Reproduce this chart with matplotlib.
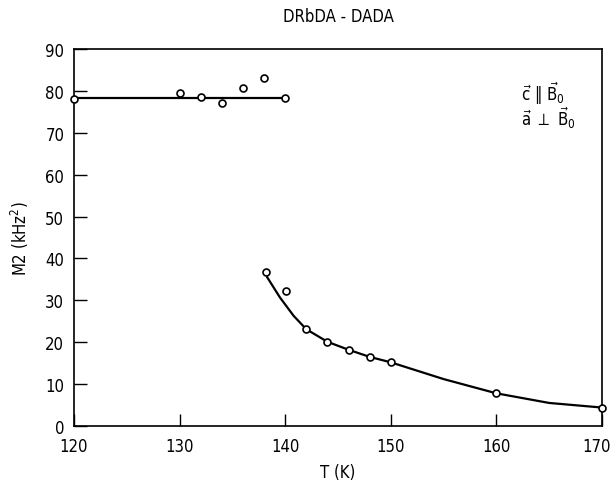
import matplotlib
matplotlib.use("Agg")
import matplotlib.pyplot as plt
from matplotlib import font_manager
from matplotlib.transforms import ScaledTranslation

names = {f.name for f in font_manager.fontManager.ttflist}
narrow = [n for n in ['Liberation Sans Narrow', 'DejaVu Sans Condensed'] if n in names]
plt.rcParams['font.family'] = narrow + ['DejaVu Sans']
plt.rcParams['font.stretch'] = 'condensed'
plt.rcParams['mathtext.fontset'] = 'dejavusans'

# low temperature phase (measured points)
low_T = [120, 130, 132, 134, 136, 138, 140]
low_M2 = [78.0, 79.5, 78.6, 77.0, 80.6, 83.1, 78.2]
low_fit_T = [120, 140]
low_fit_M2 = [78.4, 78.4]

# high temperature phase (measured points)
high_T = [138.2, 140.1, 142, 144, 146, 148, 150, 160, 170]
high_M2 = [36.7, 32.3, 23.1, 20.1, 18.2, 16.5, 15.2, 7.8, 4.4]
# hand drawn fit line
high_fit_T = [138.3, 139.5, 140.8, 142, 144, 146, 148, 150, 155, 160, 165, 170]
high_fit_M2 = [35.5, 30.7, 26.3, 23.1, 20.1, 18.2, 16.5, 15.2, 11.2, 7.8, 5.5, 4.4]

x_ticks = [120, 130, 140, 150, 160, 170]
y_ticks = [0, 10, 20, 30, 40, 50, 60, 70, 80, 90]

fig = plt.figure(figsize=(6.13, 4.81), dpi=100)
ax = fig.add_axes([0.1207, 0.1123, 0.8613, 0.7837])

ax.plot(low_fit_T, low_fit_M2, color='black', lw=1.6, zorder=2)
ax.plot(high_fit_T, high_fit_M2, color='black', lw=1.6, zorder=2)
mk = dict(ls='none', marker='o', ms=5, mfc='white', mec='black', mew=1.2, zorder=3,
          clip_on=False)
ax.plot(low_T, low_M2, **mk)
ax.plot(high_T, high_M2, **mk)

ax.set_xlim(120, 170)
ax.set_ylim(0, 90)
ax.set_xticks(x_ticks)
ax.set_yticks(y_ticks)
ax.tick_params(direction='in', length=9, width=1, labelsize=12)
ax.tick_params(axis='x', pad=8)
ax.tick_params(axis='y', pad=7)
for s in ax.spines.values():
    s.set_linewidth(1.2)

# last x label sits right at the figure edge, nudge it in a bit
last = ax.get_xticklabels()[-1]
last.set_transform(last.get_transform() + ScaledTranslation(-4 / 72, 0, fig.dpi_scale_trans))

ax.set_xlabel('T (K)', fontsize=12, labelpad=6)
ax.set_ylabel('M2 (kHz$^2$)', fontsize=12, labelpad=10)
fig.text(0.552, 0.965, 'DRbDA - DADA', ha='center', va='center', fontsize=12)

ax.text(0.847, 0.885, r'$\vec{\mathrm{c}}\ \Vert\ \vec{\mathrm{B}}_0$', transform=ax.transAxes,
        fontsize=12, ha='left', va='center')
ax.text(0.847, 0.82, r'$\vec{\mathrm{a}}\ \perp\ \vec{\mathrm{B}}_0$', transform=ax.transAxes,
        fontsize=12, ha='left', va='center')

fig.savefig('out.png', dpi=100)
